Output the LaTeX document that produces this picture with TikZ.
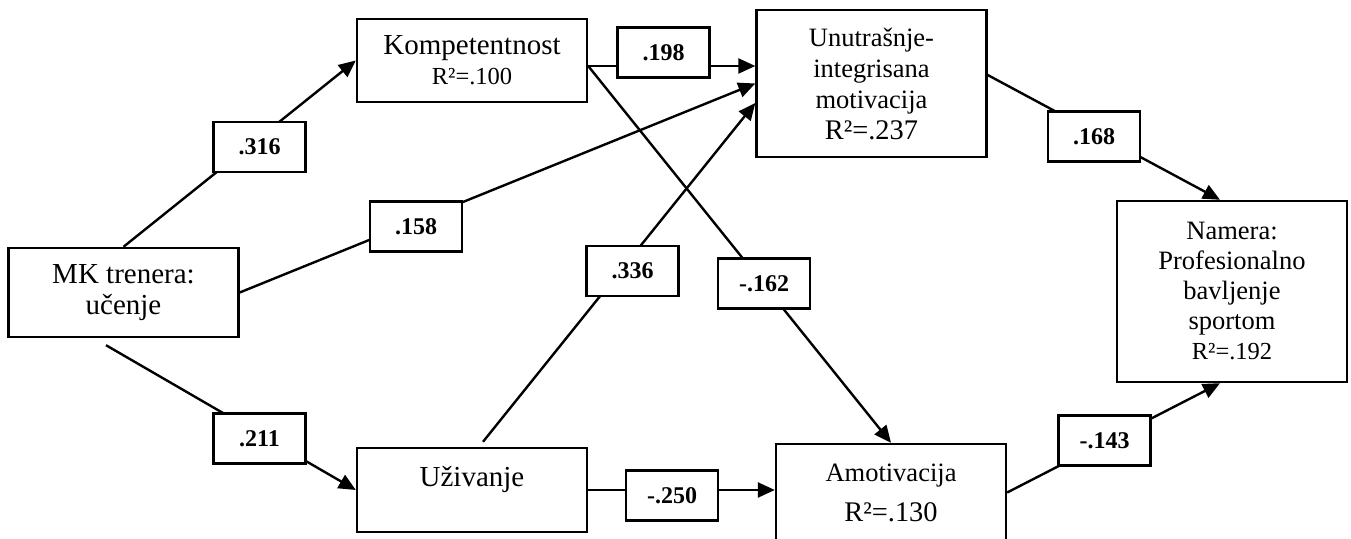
\documentclass[tikz,border=0pt]{standalone}
\usepackage{fontspec}
\setmainfont{Liberation Serif}
\usetikzlibrary{arrows.meta,calc}
\newcommand{\rsq}[2]{{\fontsize{#1}{15}\selectfont R²=#2}}

\begin{document}
\begin{tikzpicture}[x=0.5pt,y=-0.5pt,line width=1.2pt,
    var/.style={draw,rectangle,align=center,minimum width=115pt,inner sep=2pt},
    coef/.style={draw,fill=white,minimum width=46pt,minimum height=25pt,font=\fontsize{12}{14}\selectfont\bfseries},
    >={Triangle[length=8.5pt,width=7.5pt]}]
    \useasboundingbox (0,0) rectangle (1351,539);

    \node[var,minimum height=44.5pt,font=\fontsize{14.5}{15.5}\selectfont] (mk) at (123.5,292.5) {MK trenera:\\učenje};
    \node[var,minimum height=41.5pt,font=\fontsize{14.5}{15}\selectfont] (komp) at (472,60.5) {Kompetentnost\\\rsq{12.25}{.100}};
    \node[var,minimum height=73.5pt,font=\fontsize{13.25}{15.5}\selectfont] (unut) at (871.5,83.5) {Unutrašnje-\\integrisana\\motivacija\\\rsq{14.2}{.237}};
    \node[var,minimum height=90.5pt,font=\fontsize{13.25}{15}\selectfont] (namera) at (1232,291.5) {Namera:\\Profesionalno\\bavljenje\\sportom\\\rsq{12.25}{.192}};
    \node[var,minimum height=42pt,font=\fontsize{14.5}{15}\selectfont] (uziv) at (472,490) {Uživanje\\[-6pt]\strut};
    \node[var,minimum height=48.5pt,font=\fontsize{13.25}{20}\selectfont] (amot) at (891,492.5) {Amotivacija\\\rsq{14.2}{.130}};

    \coordinate (kout) at ($(komp.east)+(0,5.5)$);

    \draw[->] (mk.north) -- (komp.west);
    \draw[->] (mk.east) -- (unut.west);
    \draw[->] ($(mk.south)+(-17.5,7)$) -- (uziv.west);
    \draw[->] (kout) -- (kout -| unut.west);
    \draw[->] (kout) -- (amot.north);
    \draw[->] ($(uziv.north)+(11,-5)$) -- ($(unut.west)+(0,19.5)$);
    \draw[->] (uziv.east) -- (uziv.east -| amot.west);
    \draw[->] ($(unut.east)+(0,-8.5)$) -- ($(namera.north)+(-12,0)$);
    \draw[->] (amot.east) -- ($(namera.south)+(-12,0)$);

    \node[coef] (c316) at (259.5,147) {.316};
    \node[coef] (c158) at (416,226.5) {.158};
    \node[coef] (c211) at (259.5,438.5) {.211};
    \node[coef] (c198) at (663.5,52.5) {.198};
    \node[coef] (c336) at (632.5,271) {.336};
    \node[coef] (c162) at (764,283.5) {-.162};
    \node[coef] (c250) at (672,495.5) {-.250};
    \node[coef] (c168) at (1094,136.5) {.168};
    \node[coef] (c143) at (1104.5,440.5) {-.143};
\end{tikzpicture}
\end{document}
